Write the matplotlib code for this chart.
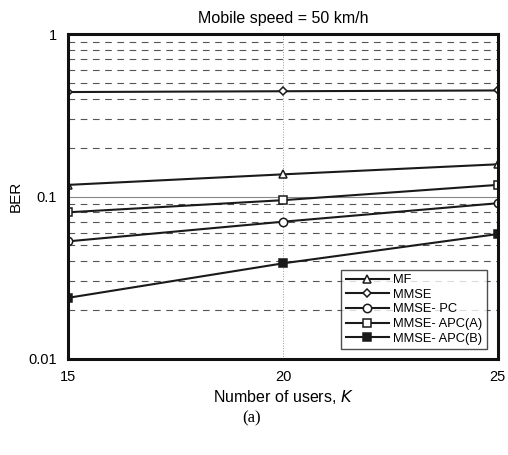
import numpy as np
from matplotlib import pyplot as plt
from matplotlib.ticker import LogLocator, NullFormatter

plt.rcParams['font.family'] = ['Liberation Sans', 'DejaVu Sans']

# Datos
users = [15, 20, 25]
ber_mf = [0.118, 0.137, 0.158]
ber_mmse = [0.44, 0.445, 0.45]
ber_mmse_pc = [0.053, 0.070, 0.091]
ber_apc_a = [0.080, 0.095, 0.118]
ber_apc_b = [0.0238, 0.0388, 0.0588]

fig = plt.figure(figsize=(5.08, 4.55), dpi=100)
ax = fig.add_axes([0.134, 0.211, 0.846, 0.714])

kw = dict(color='#1a1a1a', linewidth=1.5, markersize=6, markeredgewidth=1.1)
ax.plot(users, ber_mf, marker='^', markerfacecolor='white', label='MF', **kw)
ax.plot(users, ber_mmse, marker='D', markerfacecolor='white', label='MMSE',
        **{**kw, 'markersize': 4.5})
ax.plot(users, ber_mmse_pc, marker='o', markerfacecolor='white', label='MMSE- PC', **kw)
ax.plot(users, ber_apc_a, marker='s', markerfacecolor='white', label='MMSE- APC(A)', **kw)
ax.plot(users, ber_apc_b, marker='s', markerfacecolor='#1a1a1a', label='MMSE- APC(B)', **kw)

ax.set_yscale('log')
ax.set_xlim(15, 25)
ax.set_ylim(0.01, 1)
ax.set_xticks([15, 20, 25])
ax.set_yticks([0.01, 0.1, 1])
ax.set_yticklabels(['0.01', '0.1', '1'])
ax.yaxis.set_minor_locator(LogLocator(base=10, subs=np.arange(2, 10)))
ax.yaxis.set_minor_formatter(NullFormatter())
ax.tick_params(which='both', length=0, labelsize=10.5, pad=8)

ax.grid(True, which='major', axis='y', color='#888888', linewidth=0.8)
ax.grid(True, which='minor', axis='y', color='#555555', linewidth=0.8,
        linestyle=(0, (6, 5)))
ax.grid(True, which='major', axis='x', color='#999999', linewidth=0.7,
        linestyle=':')
for s in ax.spines.values():
    s.set_linewidth(2.2)
    s.set_color('#111111')

ax.set_title('Mobile speed = 50 km/h', fontsize=11.5, pad=8)
ax.set_xlabel('Number of users, $K$', fontsize=11.5, labelpad=3)
ax.set_ylabel('BER', fontsize=11, labelpad=4)

leg = ax.legend(loc='lower right', fontsize=9.3, frameon=True, fancybox=False,
                edgecolor='#222222', handlelength=3.4, borderpad=0.35,
                labelspacing=0.2, handletextpad=0.3, borderaxespad=0,
                bbox_to_anchor=(0.975, 0.03))
leg.get_frame().set_linewidth(1.0)

fig.text(0.495, 1 - 418 / 455, '(a)', fontsize=12, ha='center', va='center',
         family='Liberation Serif')

plt.savefig('out.png', dpi=100)
